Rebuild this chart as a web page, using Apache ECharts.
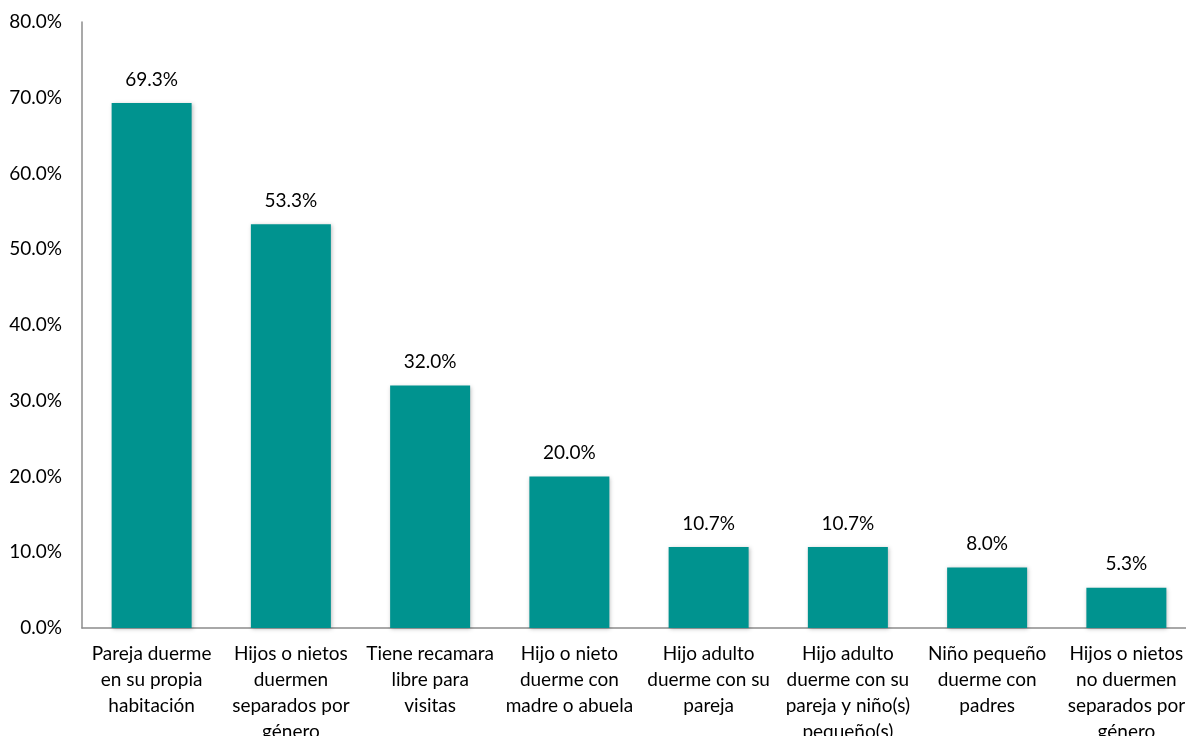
<!DOCTYPE html>
<html>
<head>
<meta charset="utf-8">
<script src="https://cdn.jsdelivr.net/npm/echarts@6/dist/echarts.min.js"></script>
<style>
	html, body { margin: 0; padding: 0; background: #fff; overflow: hidden; }
	#chart { width: 1186px; height: 736px; }
</style>
</head>
<body>
<div id="chart"></div>
<script>
var categories = [
	'Pareja duerme\nen su propia\nhabitación',
	'Hijos o nietos\nduermen\nseparados por\ngénero',
	'Tiene recamara\nlibre para\nvisitas',
	'Hijo o nieto\nduerme con\nmadre o abuela',
	'Hijo adulto\nduerme con su\npareja',
	'Hijo adulto\nduerme con su\npareja y niño(s)\npequeño(s)',
	'Niño pequeño\nduerme con\npadres',
	'Hijos o nietos\nno duermen\nseparados por\ngénero'
];
var values = [69.3, 53.3, 32.0, 20.0, 10.7, 10.7, 8.0, 5.3];

var myChart = echarts.init(document.getElementById('chart'));
var font = 'Lato, "Open Sans", sans-serif';
var option = {
	animation : false,
	grid : {
		left : 82,
		right : -10,
		top : 22,
		bottom : 108,
		containLabel : false,
		outerBoundsMode : 'none'
	},
	xAxis : [ {
		type : 'category',
		data : categories,
		axisLine : { lineStyle : { color : '#8c8c8c', width : 1.5 } },
		axisTick : { show : false },
		axisLabel : {
			interval : 0,
			margin : 13,
			color : '#000',
			fontFamily : font,
			fontSize : 19,
			lineHeight : 26
		}
	} ],
	yAxis : [ {
		type : 'value',
		min : 0,
		max : 80,
		interval : 10,
		splitLine : { show : false },
		axisLine : { show : true, lineStyle : { color : '#8c8c8c', width : 1.5 } },
		axisTick : { show : false },
		axisLabel : {
			margin : 20,
			color : '#000',
			fontFamily : font,
			fontSize : 19,
			formatter : function(v) { return v.toFixed(1) + '%'; }
		}
	} ],
	series : [ {
		type : 'bar',
		data : values,
		barWidth : 80,
		itemStyle : {
			color : '#00938f',
			shadowColor : 'rgba(0,0,0,0.25)',
			shadowBlur : 4,
			shadowOffsetX : 1,
			shadowOffsetY : 1
		},
		label : {
			show : true,
			position : 'top',
			distance : 14,
			color : '#000',
			fontFamily : font,
			fontSize : 19,
			formatter : function(p) { return p.value.toFixed(1) + '%'; }
		}
	} ]
};
myChart.setOption(option);
</script>
</body>
</html>
